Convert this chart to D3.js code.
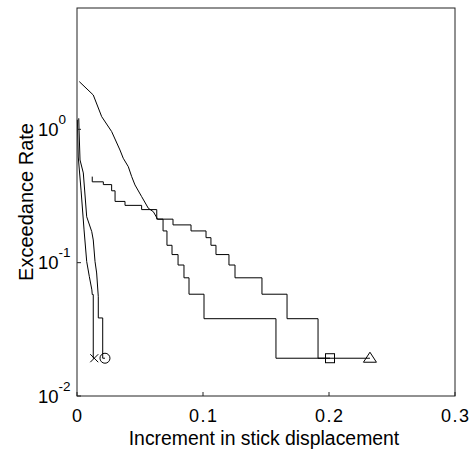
<!DOCTYPE html>
<html>
<head>
<meta charset="utf-8">
<script src="https://cdn.jsdelivr.net/npm/d3@7"></script>
<style>
  body { margin: 0; background: #fff; }
  text { font-family: "Liberation Sans", Arial, sans-serif; fill: #000; }
</style>
</head>
<body>
<div id="chart"></div>
<script>
const width = 474;
const height = 452;

// x ticks and y decades
const xTicks = [0, 0.1, 0.2, 0.3];
const yDecades = [-2, -1, 0];

// curve with x marker (steep, left)
const aX = [0.0003, 0.0010, 0.0032, 0.0056, 0.0077, 0.0098, 0.0118, 0.0121, 0.0129, 0.0129, 0.0137];
const aY = [1.18, 0.62, 0.35, 0.176, 0.102, 0.0785, 0.0625, 0.0577, 0.0577, 0.0192, 0.0192];

// curve with circle marker (steep, right)
const bX = [0.0014, 0.0016, 0.0024, 0.0050, 0.0077, 0.0117, 0.0129, 0.0143, 0.0156, 0.0169, 0.0169, 0.0204, 0.0204, 0.0222];
const bY = [1.21, 1.0, 0.589, 0.471, 0.221, 0.171, 0.148, 0.102, 0.0837, 0.0556, 0.0385, 0.0385, 0.0192, 0.0192];

// curve with square marker: dense head, then stairs
const cHeadX = [0.0018, 0.0129, 0.0196, 0.0275, 0.0341, 0.0367, 0.0407, 0.0434, 0.0460, 0.0513, 0.0566, 0.0606, 0.0640];
const cHeadY = [2.28, 1.81, 1.245, 0.962, 0.700, 0.607, 0.525, 0.442, 0.383, 0.313, 0.256, 0.241, 0.212];
const cStepX = [0.0640, 0.0683, 0.0714, 0.0754, 0.0802, 0.0849, 0.0889, 0.1008, 0.1579, 0.2008];
const cStepY = [0.212, 0.173, 0.135, 0.115, 0.096, 0.077, 0.058, 0.038, 0.0192, 0.0192];

// curve with triangle marker: stairs
const dX = [0.0121, 0.0121, 0.0209, 0.0275, 0.0302, 0.0381, 0.0513, 0.0633, 0.0762, 0.0905, 0.1024, 0.1063, 0.1103, 0.1206, 0.1254, 0.1468, 0.1667, 0.1913, 0.2325];
const dY = [0.442, 0.404, 0.385, 0.346, 0.288, 0.269, 0.250, 0.212, 0.192, 0.173, 0.154, 0.135, 0.115, 0.096, 0.077, 0.058, 0.038, 0.0192, 0.0192];

const svg = d3.select("#chart").append("svg")
    .attr("width", width)
    .attr("height", height);

const plotLeft = 77, plotRight = 455, plotTop = 8, plotBottom = 396;

const x = d3.scaleLinear().domain([0, 0.3]).range([plotLeft, plotRight]);
const y = d3.scaleLog().domain([0.01, Math.pow(10, 0.91)]).range([plotBottom, plotTop]);

const zip = (xs, ys) => xs.map((v, i) => [v, ys[i]]);

const lineLin = d3.line().x(d => x(d[0])).y(d => y(d[1]));
const lineStep = d3.line().x(d => x(d[0])).y(d => y(d[1])).curve(d3.curveStepAfter);

const g = svg.append("g");

function drawLine(data, gen) {
    g.append("path")
        .attr("d", gen(data))
        .attr("fill", "none")
        .attr("stroke", "#000")
        .attr("stroke-width", 1);
}

drawLine(zip(aX, aY), lineLin);
drawLine(zip(bX, bY), lineLin);
drawLine(zip(cHeadX, cHeadY), lineLin);
drawLine(zip(cStepX, cStepY), lineStep);
drawLine(zip(dX, dY), lineStep);

// markers at the end of each curve
const endA = [aX[aX.length - 1], aY[aY.length - 1]];
const endB = [bX[bX.length - 1], bY[bY.length - 1]];
const endC = [cStepX[cStepX.length - 1], cStepY[cStepY.length - 1]];
const endD = [dX[dX.length - 1], dY[dY.length - 1]];

const mk = g.append("g").attr("fill", "none").attr("stroke", "#000").attr("stroke-width", 1);

mk.append("path")
    .attr("transform", `translate(${x(endA[0])},${y(endA[1])})`)
    .attr("d", "M-4,-4L4,4M-4,4L4,-4");
mk.append("circle")
    .attr("cx", x(endB[0])).attr("cy", y(endB[1]))
    .attr("r", 5);
mk.append("rect")
    .attr("x", x(endC[0]) - 4.5).attr("y", y(endC[1]) - 4.5)
    .attr("width", 9).attr("height", 9);
mk.append("path")
    .attr("transform", `translate(${x(endD[0])},${y(endD[1])})`)
    .attr("d", "M0,-6L6.5,4L-6.5,4Z");

// frame
const axisColor = "#222";
svg.append("rect")
    .attr("x", plotLeft).attr("y", plotTop)
    .attr("width", plotRight - plotLeft).attr("height", plotBottom - plotTop)
    .attr("fill", "none")
    .attr("stroke", axisColor)
    .attr("stroke-width", 1);

// x ticks and labels
xTicks.forEach(t => {
    svg.append("line")
        .attr("x1", x(t)).attr("x2", x(t))
        .attr("y1", plotBottom).attr("y2", plotBottom - 4)
        .attr("stroke", axisColor);
    svg.append("text")
        .attr("x", x(t) + 0.75).attr("y", plotBottom + 26)
        .attr("text-anchor", "middle")
        .style("font-size", "18px")
        .style("letter-spacing", "1.5px")
        .text(d3.format("")(t));
});

// y ticks and labels
yDecades.forEach(p => {
    const yy = y(Math.pow(10, p));
    svg.append("line")
        .attr("x1", plotLeft).attr("x2", plotLeft + 4)
        .attr("y1", yy).attr("y2", yy)
        .attr("stroke", axisColor);
    const t = svg.append("text")
        .attr("x", 38).attr("y", yy + 6.5)
        .style("font-size", "18.5px");
    t.append("tspan").text("10");
    t.append("tspan")
        .attr("dy", -12)
        .style("font-size", "13.5px")
        .text(p);
});

svg.append("text")
    .attr("x", (plotLeft + plotRight) / 2 - 2).attr("y", 445)
    .attr("text-anchor", "middle")
    .style("font-size", "19.4px")
    .text("Increment in stick displacement");

svg.append("text")
    .attr("transform", `translate(33,${(plotTop + plotBottom) / 2}) rotate(-90)`)
    .attr("text-anchor", "middle")
    .style("font-size", "20px")
    .text("Exceedance Rate");
</script>
</body>
</html>
